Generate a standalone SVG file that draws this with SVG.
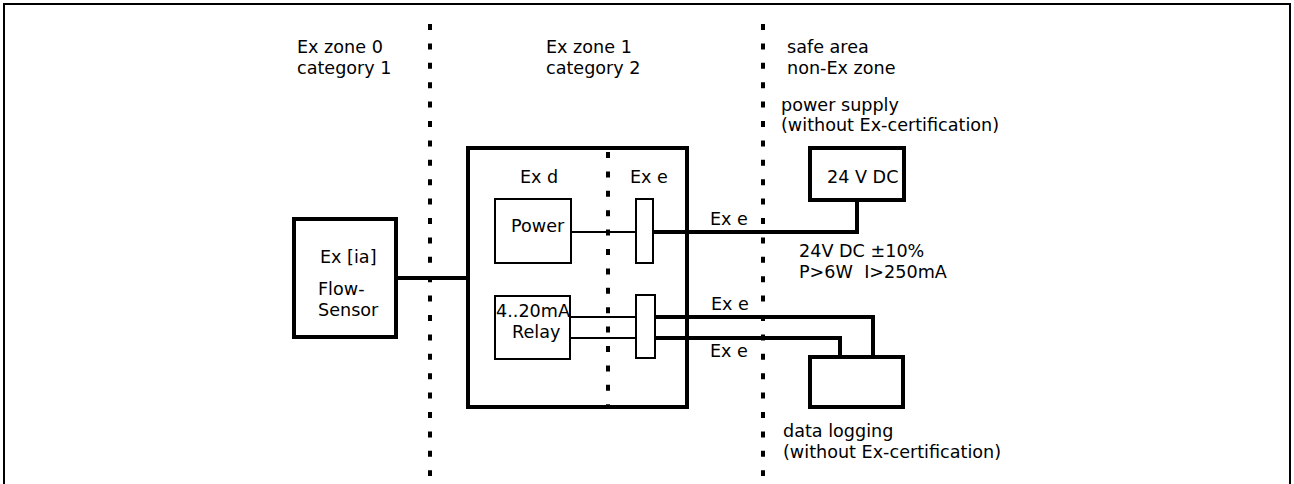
<svg xmlns="http://www.w3.org/2000/svg" width="1294" height="484" viewBox="0 0 1294 484">
<style>
text{font-family:"DejaVu Sans","Verdana",sans-serif;font-size:17.6px;fill:#000;white-space:pre}
.thick{fill:none;stroke:#000;stroke-width:4}
.thin{fill:none;stroke:#000;stroke-width:2}
.box{fill:#fff;stroke:#000;stroke-width:4}
.sbox{fill:#fff;stroke:#000;stroke-width:2}
.zone{fill:none;stroke:#000;stroke-width:4;stroke-dasharray:6 13.4}
</style>
<rect width="1294" height="484" fill="#fff"/>
<path d="M4,490 V4 H1290 V490" fill="none" stroke="#000" stroke-width="2"/>
<g id="zones">
<line class="zone" x1="430" y1="24" x2="430" y2="476"/>
<line class="zone" x1="763" y1="24" x2="763" y2="476"/>
<text x="297" y="53">Ex zone 0</text>
<text x="297" y="74">category 1</text>
<text x="546" y="53">Ex zone 1</text>
<text x="546" y="74">category 2</text>
<text x="787" y="53">safe area</text>
<text x="787" y="74">non-Ex zone</text>
</g>
<g id="connectors">
<line class="thick" x1="396" y1="278" x2="468" y2="278"/>
<line class="thin" x1="571" y1="232" x2="636" y2="232"/>
<polyline class="thick" points="653,232 857,232 857,200"/>
<line class="thin" x1="570" y1="317" x2="636" y2="317"/>
<line class="thin" x1="570" y1="338" x2="636" y2="338"/>
<polyline class="thick" points="655,317 873,317 873,357"/>
<polyline class="thick" points="655,338 840,338 840,357"/>
<text x="710" y="225">Ex e</text>
<text x="711" y="310">Ex e</text>
<text x="710" y="357">Ex e</text>
</g>
<g id="flow-sensor">
<rect class="box" x="294" y="219" width="102" height="118"/>
<text x="320" y="263">Ex [ia]</text>
<text x="318" y="295">Flow-</text>
<text x="318" y="316">Sensor</text>
</g>
<g id="enclosure">
<rect class="thick" x="468" y="148" width="219" height="259"/>
<line class="zone" x1="608" y1="152" x2="608" y2="405"/>
<text x="520" y="183">Ex d</text>
<text x="630" y="183">Ex e</text>
</g>
<g id="power">
<rect class="sbox" x="495" y="199" width="76" height="64"/>
<text x="511" y="232">Power</text>
</g>
<g id="terminal1">
<rect class="sbox" x="636" y="199" width="17" height="64"/>
</g>
<g id="relay">
<rect class="sbox" x="495" y="296" width="75" height="63"/>
<text x="496" y="317">4..20mA</text>
<text x="512" y="338">Relay</text>
</g>
<g id="terminal2">
<rect class="sbox" x="636" y="295" width="19" height="63"/>
</g>
<g id="power-supply">
<rect class="box" x="810" y="148" width="94" height="52"/>
<text x="827" y="183">24 V DC</text>
<text x="781" y="111">power supply</text>
<text x="781" y="131">(without Ex-certification)</text>
<text x="799" y="257">24V DC ±10%</text>
<text x="799" y="278">P&gt;6W  I&gt;250mA</text>
</g>
<g id="data-logging">
<rect class="box" x="810" y="357" width="93" height="50"/>
<text x="783" y="437">data logging</text>
<text x="783" y="458">(without Ex-certification)</text>
</g>
</svg>
